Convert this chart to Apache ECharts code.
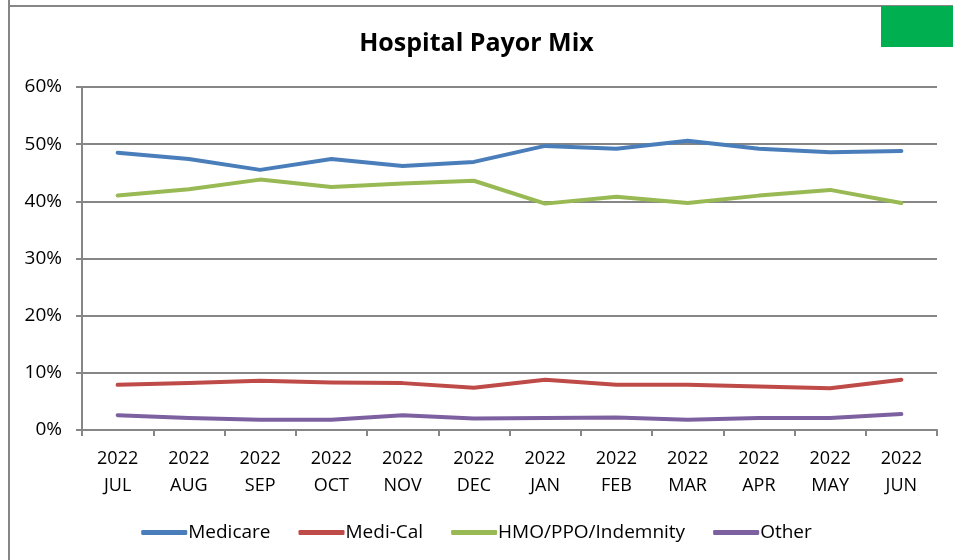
<!DOCTYPE html>
<html>
<head>
<meta charset="utf-8">
<script src="https://cdn.jsdelivr.net/npm/echarts@6/dist/echarts.min.js"></script>
<style>
  html, body { margin: 0; padding: 0; background: #fff; }
  #chart { width: 953px; height: 560px; }
</style>
</head>
<body>
<div id="chart"></div>
<script>
// months of the fiscal year, shown as "2022\nJUL" etc.
const years = ["2022", "2022", "2022", "2022", "2022", "2022", "2022", "2022", "2022", "2022", "2022", "2022"];
const months = ["JUL", "AUG", "SEP", "OCT", "NOV", "DEC", "JAN", "FEB", "MAR", "APR", "MAY", "JUN"];

// payor share, percent of total
const medicare = [48.5, 47.4, 45.5, 47.4, 46.2, 46.9, 49.7, 49.2, 50.6, 49.2, 48.6, 48.8];
const mediCal = [7.9, 8.2, 8.6, 8.3, 8.2, 7.4, 8.8, 7.9, 7.9, 7.6, 7.3, 8.8];
const hmoPpo = [41.0, 42.1, 43.8, 42.5, 43.1, 43.6, 39.6, 40.8, 39.7, 41.0, 42.0, 39.7];
const other = [2.6, 2.1, 1.8, 1.8, 2.6, 2.0, 2.1, 2.2, 1.8, 2.1, 2.1, 2.8];

const yTicks = { min: 0, max: 60, interval: 10 };

const FONT = "'Open Sans', 'Noto Sans', sans-serif";
const GRID_COLOR = "#868686";

const chart = echarts.init(document.getElementById("chart"), null, { renderer: "canvas" });

function line(name, data, color) {
  return {
    name,
    type: "line",
    data,
    symbol: "none",
    lineStyle: { width: 4, color, cap: "round", join: "round" },
    itemStyle: { color },
  };
}

chart.setOption({
  backgroundColor: "#fff",
  animation: false,
  textStyle: { fontFamily: FONT },
  title: {
    text: "Hospital Payor Mix",
    left: "center",
    top: 26,
    textStyle: { fontFamily: FONT, fontSize: 25, fontWeight: "bold", color: "#000" },
  },
  graphic: [
    { type: "line", shape: { x1: 9, y1: 0, x2: 9, y2: 560 }, style: { stroke: GRID_COLOR, lineWidth: 2 } },
    { type: "line", shape: { x1: 9, y1: 6, x2: 953, y2: 6 }, style: { stroke: GRID_COLOR, lineWidth: 2 } },
    { type: "rect", shape: { x: 881, y: 6, width: 72, height: 41 }, style: { fill: "#00b050" } },
  ],
  legend: {
    left: "center",
    top: 518,
    icon: "roundRect",
    itemWidth: 46,
    itemHeight: 5,
    itemGap: 28,
    textStyle: { fontFamily: FONT, fontSize: 19, color: "#000", padding: [0, 0, 0, -4] },
    data: ["Medicare", "Medi-Cal", "HMO/PPO/Indemnity", "Other"],
  },
  grid: { left: 82, right: 16, top: 87, bottom: 130, containLabel: false },
  xAxis: {
    type: "category",
    boundaryGap: true,
    data: months.map((m, i) => years[i] + "\n" + m),
    axisLine: { lineStyle: { color: GRID_COLOR, width: 2 } },
    axisTick: { show: true, length: 6, lineStyle: { color: GRID_COLOR, width: 2 } },
    axisLabel: { color: "#000", fontSize: 18, lineHeight: 27, margin: 15, interval: 0, fontFamily: FONT },
    splitLine: { show: false },
  },
  yAxis: {
    type: "value",
    min: yTicks.min,
    max: yTicks.max,
    interval: yTicks.interval,
    axisLine: { show: true, lineStyle: { color: GRID_COLOR, width: 2 } },
    axisTick: { show: true, length: 6, lineStyle: { color: GRID_COLOR, width: 2 } },
    axisLabel: { color: "#000", fontSize: 19, margin: 20, formatter: "{value}%", fontFamily: FONT },
    splitLine: { show: true, lineStyle: { color: GRID_COLOR, width: 2 } },
  },
  series: [
    line("Medicare", medicare, "#4a7ebb"),
    line("Medi-Cal", mediCal, "#be4b48"),
    line("HMO/PPO/Indemnity", hmoPpo, "#98b954"),
    line("Other", other, "#7d60a0"),
  ],
});
</script>
</body>
</html>
